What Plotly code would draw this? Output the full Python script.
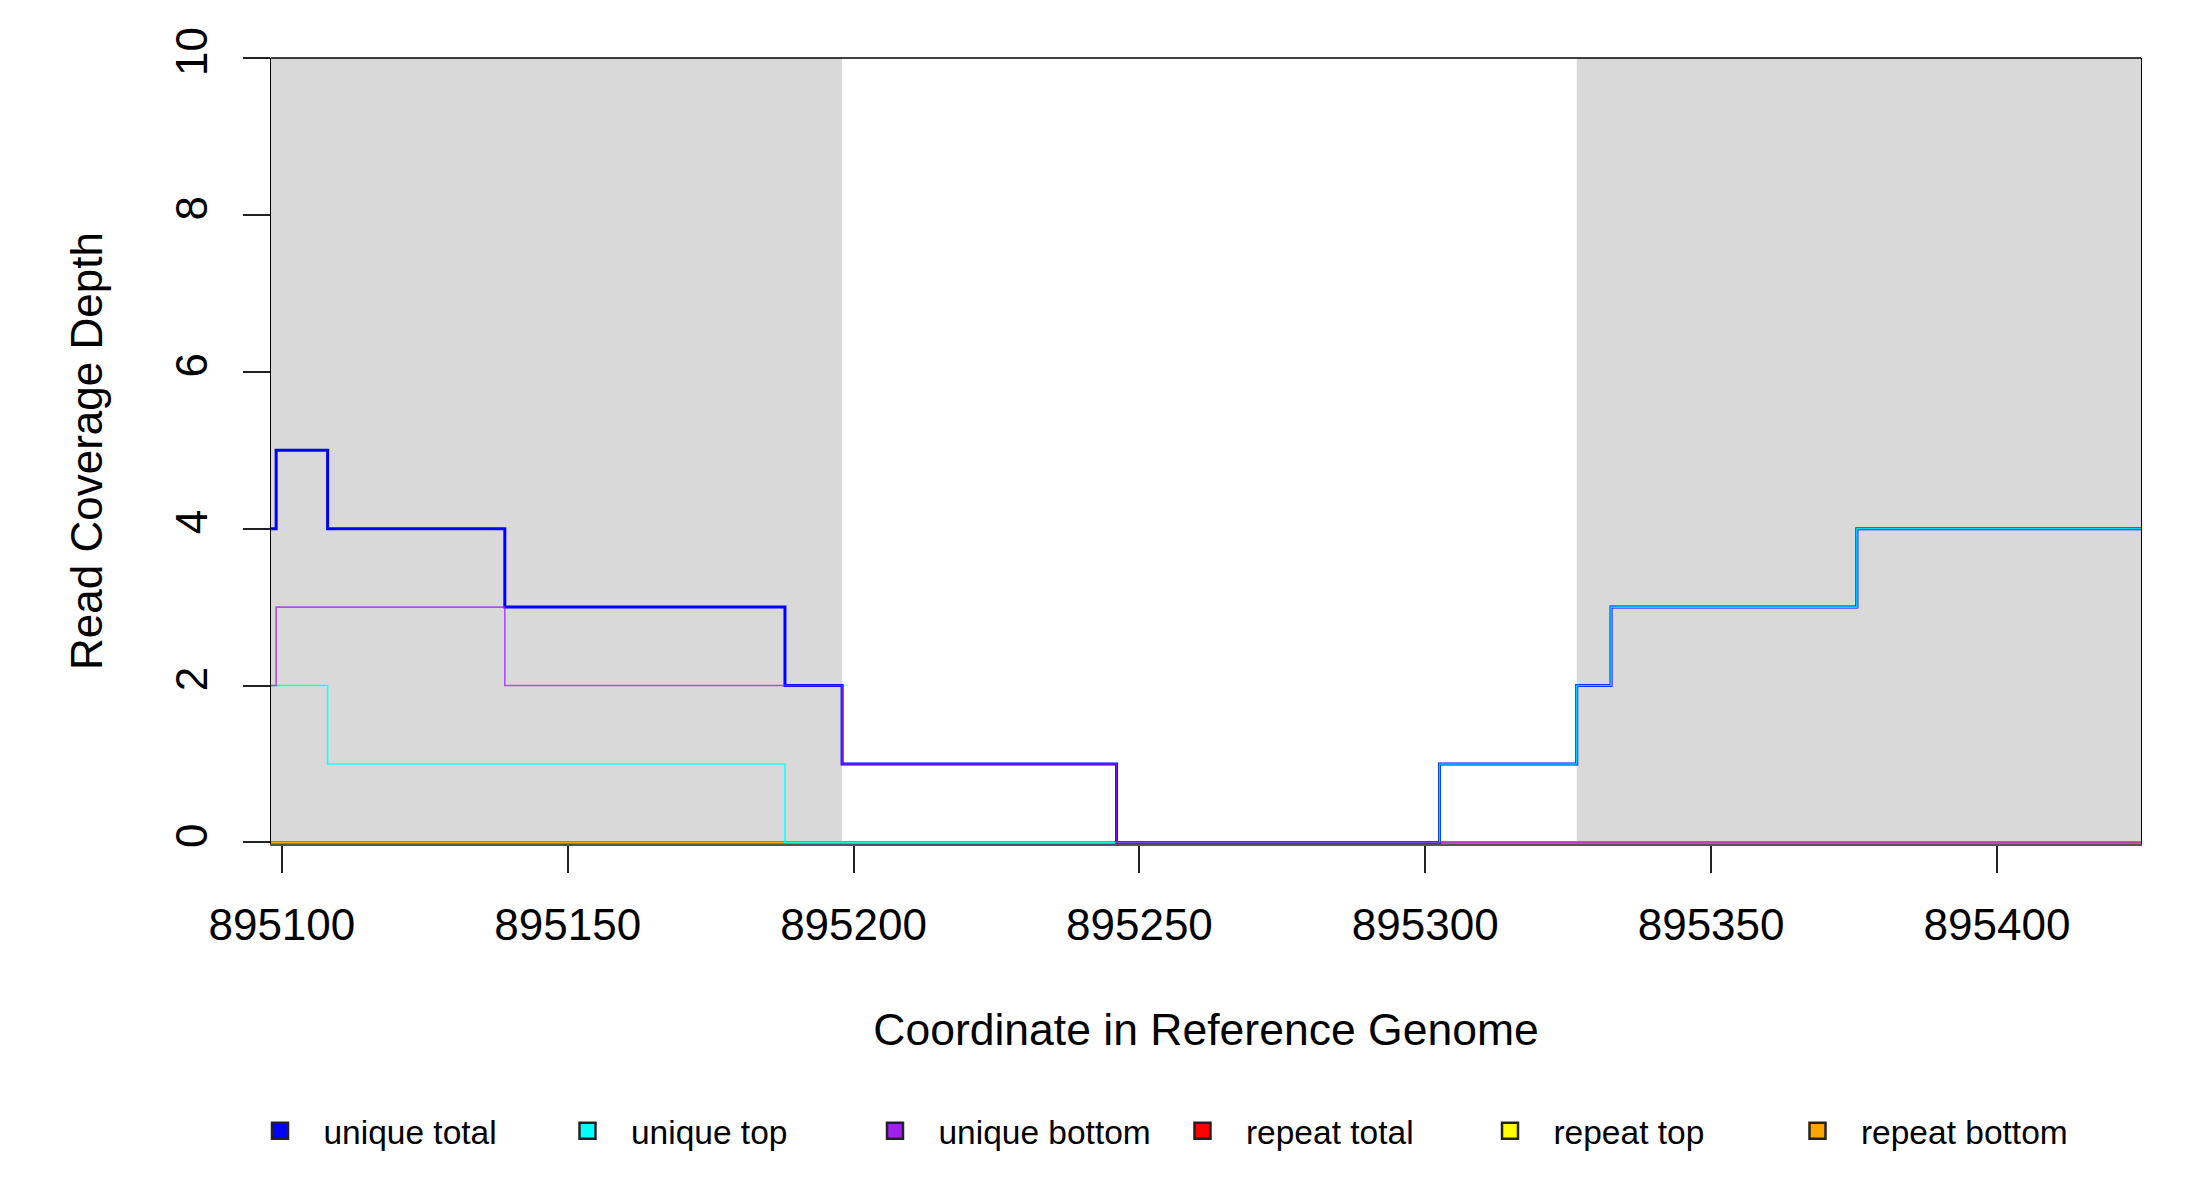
import plotly.graph_objects as go

# left edge of each coverage run along the reference (last value closes the final run)
positions = [895098, 895099, 895108, 895139, 895188, 895198, 895246,
             895302.5, 895326.5, 895332.5, 895375.5, 895425.2]

unique_total = [4, 5, 4, 3, 2, 1, 0, 1, 2, 3, 4, 4]
unique_top = [2, 2, 1, 1, 0, 0, 0, 1, 2, 3, 4, 4]
unique_bottom = [2, 3, 3, 2, 2, 1, 0, 0, 0, 0, 0, 0]
repeat_total = [0, 0, 0, 0, 0, 0, 0, 0, 0, 0, 0, 0]
repeat_top = [0, 0, 0, 0, 0, 0, 0, 0, 0, 0, 0, 0]
repeat_bottom = [0, 0, 0, 0, 0, 0, 0, 0, 0, 0, 0, 0]

# grey blocks behind the coverage
shade_starts = [895098, 895326.5]
shade_ends = [895198, 895425.2]

x_ticks = [895100, 895150, 895200, 895250, 895300, 895350, 895400]
y_ticks = [0, 2, 4, 6, 8, 10]

FONT = "Liberation Sans, Arial, sans-serif"
W, H = 2184, 1184  # page body adds an 8px margin

# name, values, line colour, line width, legend box colour
series = [
    ("repeat total", repeat_total, "rgba(255,0,0,0.85)", 3, "#FF0000"),
    ("repeat top", repeat_top, "rgba(255,255,0,0.8)", 1.6, "#FFFF00"),
    ("repeat bottom", repeat_bottom, "rgba(255,165,0,0.85)", 1.6, "#FFA500"),
    ("unique total", unique_total, "rgba(0,0,255,1)", 3, "#0000FF"),
    ("unique top", unique_top, "rgba(0,255,255,0.85)", 1.6, "#00FFFF"),
    ("unique bottom", unique_bottom, "rgba(160,32,240,0.75)", 1.6, "#A020F0"),
]
legend_order = ["unique total", "unique top", "unique bottom",
                "repeat total", "repeat top", "repeat bottom"]

fig = go.Figure()

for name, vals, col, w, _ in series:
    fig.add_trace(go.Scatter(
        x=positions, y=vals, mode="lines", name=name,
        line=dict(color=col, width=w, shape="hv"),
        showlegend=False, hoverinfo="x+y+name",
    ))

# legend entries drawn as filled boxes like base R legend(fill=...)
box_colours = {s[0]: s[4] for s in series}
for name in legend_order:
    fig.add_trace(go.Scatter(
        x=[None], y=[None], mode="markers", name="\u2002\u2009" + name,
        marker=dict(symbol="square", size=16, color=box_colours[name],
                    line=dict(color="#222", width=2.5)),
        showlegend=True,
    ))

for x0, x1 in zip(shade_starts, shade_ends):
    fig.add_shape(type="rect", xref="x", yref="paper", x0=x0, x1=x1, y0=0, y1=1,
                  fillcolor="#D9D9D9", line=dict(width=0), layer="below")

# top border of the plot box
fig.add_shape(type="line", xref="paper", yref="paper", x0=0, x1=1, y0=1, y1=1,
              line=dict(color="black", width=1.3))

fig.update_layout(
    width=W, height=H,
    margin=dict(l=263, r=51, t=50, b=348),
    paper_bgcolor="white", plot_bgcolor="white",
    font=dict(family=FONT, color="black", size=44),
    xaxis=dict(
        range=[895098.1, 895425.2], tickvals=x_ticks, tickformat="d",
        ticks="outside", ticklen=27, tickwidth=2, tickcolor="#222",
        showline=True, linecolor="#555", linewidth=1.5,
        showgrid=False, zeroline=False,
        tickfont=dict(size=44), ticklabelstandoff=14,
        title=dict(text="Coordinate in Reference Genome", font=dict(size=44.5), standoff=66),
    ),
    yaxis=dict(
        range=[-0.02, 10], tickvals=y_ticks, tickangle=-90,
        ticks="outside", ticklen=27, tickwidth=2, tickcolor="#222",
        showline=True, mirror=True, linecolor="black", linewidth=1.3,
        showgrid=False, zeroline=False,
        tickfont=dict(size=44), ticklabelstandoff=18,
        title=dict(text="Read Coverage Depth", font=dict(size=44), standoff=50),
    ),
    legend=dict(
        orientation="h", xref="container", yref="container",
        x=252 / W, y=1 - 1123 / H, xanchor="left", yanchor="middle",
        font=dict(size=33.5), entrywidth=262.5, entrywidthmode="pixels",
        traceorder="normal", itemsizing="trace", bgcolor="rgba(0,0,0,0)",
    ),
)

fig.write_html("out.html")
